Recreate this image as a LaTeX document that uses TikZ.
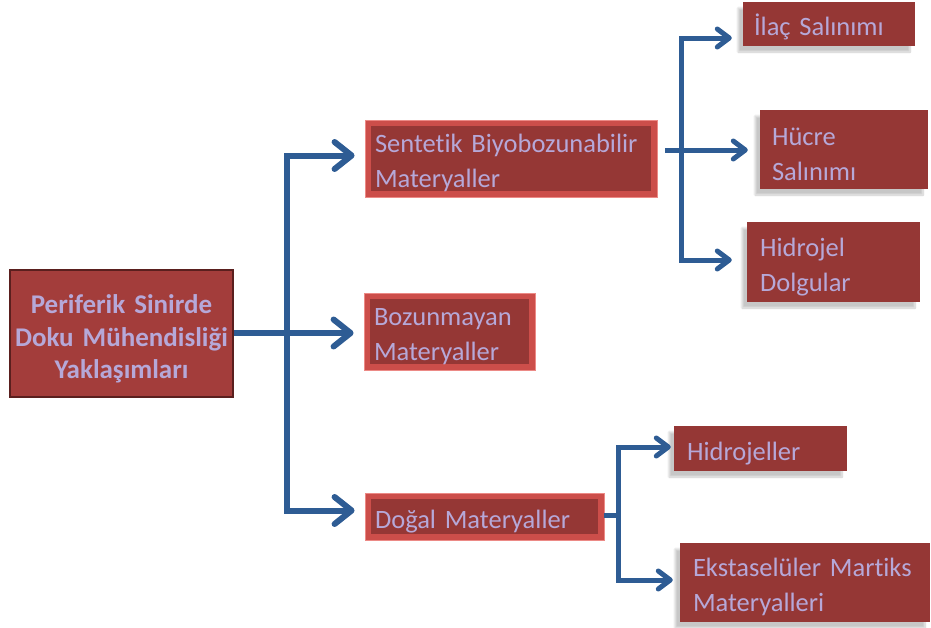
\documentclass[tikz,border=0pt]{standalone}
\usepackage{fontspec}
\setmainfont{Carlito}[Ligatures=NoCommon, WordSpace=0.6]
\usetikzlibrary{arrows.meta,shadows.blur,calc}
\definecolor{boxred}{HTML}{953735}
\definecolor{bevlight}{HTML}{CC4E4A}
\definecolor{bevrim}{HTML}{EC8A86}
\definecolor{rootdark}{HTML}{5A1F1E}
\definecolor{rootfill}{HTML}{A33D3B}
\definecolor{lav}{HTML}{B6A8D8}
\definecolor{conn}{HTML}{2E5C94}
\tikzset{
  txt/.style={font=\fontsize{26.5}{35}\selectfont, text=lav, align=left, inner ysep=0pt,
    execute at begin node={\rule{0pt}{28pt}}},
  plainbox/.style={txt, rectangle, fill=boxred,
    blur shadow={shadow xshift=-5pt, shadow yshift=-6pt, shadow opacity=22, shadow blur steps=10}},
  bevelbox/.style={txt, rectangle, fill=bevlight, draw=bevrim, line width=0.8pt,
    path picture={\fill[boxred] ([xshift=6pt,yshift=6pt]path picture bounding box.south west)
      rectangle ([xshift=-6pt,yshift=-6pt]path picture bounding box.north east);}},
  rootbox/.style={rectangle, fill=rootfill, draw=rootdark, line width=2.5pt,
    font=\bfseries\fontsize{27}{32.5}\selectfont, text=lav, align=center, inner sep=0pt,
    execute at begin node={\rule{0pt}{30pt}}},
  c1/.style={draw=conn, line width=6pt, -{Straight Barb[length=17pt,width=27pt,round]}},
  c2/.style={draw=conn, line width=5pt, -{Straight Barb[length=12pt,width=18pt,round]}},
  c2n/.style={draw=conn, line width=5pt}
}
\begin{document}
\begin{tikzpicture}[x=1pt,y=-1pt]
\useasboundingbox (0,0) rectangle (931,627);
% level 1
\node[rootbox, minimum width=223pt, minimum height=127pt, text width=220pt] (root) at (121.5,333.5)
  {Periferik Sinirde\\Doku Mühendisliği\\Yaklaşımları};
% level 2
\node[bevelbox, minimum width=292pt, minimum height=77pt, text width=272pt] (sent) at (511,158.5)
  {Sentetik Biyobozunabilir\\Materyaller};
\node[bevelbox, minimum width=171pt, minimum height=77pt, text width=151pt] (bozun) at (449.5,331.5)
  {Bozunmayan\\Materyaller};
\node[bevelbox, minimum width=239pt, minimum height=47pt, text width=219pt] (dogal) at (484.5,516.5)
  {Doğal Materyaller};
% level 3
\node[plainbox, minimum width=172pt, minimum height=44pt, text width=150pt] (ilac) at (829,24)
  {İlaç Salınımı};
\node[plainbox, minimum width=168pt, minimum height=79pt, text width=144pt] (hucre) at (844,149.5)
  {Hücre\\Salınımı};
\node[plainbox, minimum width=173pt, minimum height=80pt, text width=147pt] (hidrojel) at (833.5,262)
  {Hidrojel\\Dolgular};
\node[plainbox, minimum width=173pt, minimum height=45pt, text width=147pt] (hidrojeller) at (760.5,448.5)
  {Hidrojeller};
\node[plainbox, minimum width=250pt, minimum height=79pt, text width=224pt] (ekst) at (805,582.5)
  {Ekstaselüler Martiks\\Materyalleri};
% junctions
\coordinate (ja) at (287,333);
\coordinate (jb) at (681,150);
\coordinate (jc) at (618,515);
% connectors from root
\draw[c1, shorten >=10pt] (root.east |- ja) -- (bozun.west |- ja);
\draw[c1, shorten >=10pt] (ja) |- ($(sent.west)+(0,-3)$);
\draw[c1, shorten >=10pt] (ja) |- ($(dogal.west)+(0,-6)$);
% connectors from Sentetik
\draw[c2, shorten <=8pt, shorten >=12pt] (sent.east |- jb) -- (hucre.west |- jb);
\draw[c2, shorten >=11pt] (jb) |- ($(ilac.west)+(0,14)$);
\draw[c2, shorten >=15pt] (jb) |- ($(hidrojel.west)+(0,-2)$);
% connectors from Dogal
\draw[c2n] (dogal.east |- jc) -- (jc);
\draw[c2, shorten >=3pt] (jc) |- ($(hidrojeller.west)+(0,-1.5)$);
\draw[c2, shorten >=7pt] (jc) |- ($(ekst.west)+(0,-2.5)$);
\end{tikzpicture}
\end{document}
